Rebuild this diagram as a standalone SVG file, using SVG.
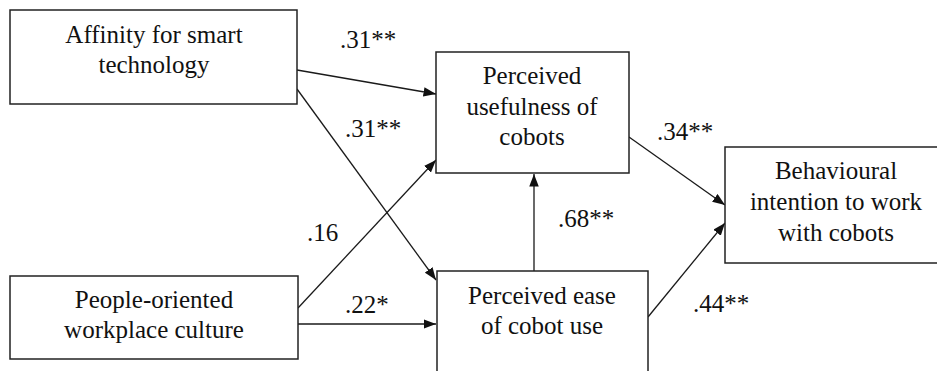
<svg xmlns="http://www.w3.org/2000/svg" width="937" height="371" viewBox="0 0 937 371">
  <style>
    .box { fill: #ffffff; stroke: #222222; stroke-width: 1.5; }
    .lbl { font-family: "Liberation Serif", "Times New Roman", Times, serif; font-size: 25px; fill: #111111; }
    .ctr { text-anchor: middle; }
    .edge { stroke: #1a1a1a; stroke-width: 1.3; fill: none; marker-end: url(#head); }
  </style>
  <defs>
    <marker id="head" markerUnits="userSpaceOnUse" markerWidth="13" markerHeight="10" refX="12.5" refY="4.75" orient="auto">
      <path d="M0,0 L12.5,4.75 L0,9.5 z" fill="#111111"/>
    </marker>
  </defs>
  <rect width="937" height="371" fill="#ffffff"/>

  <!-- path arrows with their coefficients -->
  <g id="connectors">
    <line class="edge" x1="297" y1="70" x2="436" y2="94"/>
    <line class="edge" x1="297" y1="89" x2="436" y2="280"/>
    <line class="edge" x1="298" y1="308" x2="436" y2="160"/>
    <line class="edge" x1="298" y1="324" x2="436" y2="324"/>
    <line class="edge" x1="534" y1="271" x2="534" y2="174"/>
    <line class="edge" x1="629" y1="137" x2="725" y2="205"/>
    <line class="edge" x1="648" y1="317" x2="725" y2="223"/>
    <text class="lbl" x="340" y="48">.31**</text>
    <text class="lbl" x="345" y="137">.31**</text>
    <text class="lbl" x="307" y="241">.16</text>
    <text class="lbl" x="345" y="313">.22*</text>
    <text class="lbl" x="558" y="227">.68**</text>
    <text class="lbl" x="657" y="140">.34**</text>
    <text class="lbl" x="693" y="312">.44**</text>
  </g>

  <g id="affinity">
    <rect class="box" x="10" y="10" width="287" height="94"/>
    <text class="lbl ctr" x="154" y="43">Affinity for smart</text>
    <text class="lbl ctr" x="154" y="73">technology</text>
  </g>

  <g id="usefulness">
    <rect class="box" x="436" y="52" width="193" height="121"/>
    <text class="lbl ctr" x="532" y="84">Perceived</text>
    <text class="lbl ctr" x="532" y="115">usefulness of</text>
    <text class="lbl ctr" x="532" y="145">cobots</text>
  </g>

  <g id="intention">
    <rect class="box" x="725" y="147" width="222" height="116"/>
    <text class="lbl ctr" x="836" y="179">Behavioural</text>
    <text class="lbl ctr" x="836" y="210">intention to work</text>
    <text class="lbl ctr" x="836" y="241">with cobots</text>
  </g>

  <g id="culture">
    <rect class="box" x="10" y="276" width="288" height="83"/>
    <text class="lbl ctr" x="154" y="308">People-oriented</text>
    <text class="lbl ctr" x="154" y="338">workplace culture</text>
  </g>

  <g id="ease">
    <rect class="box" x="437" y="271" width="211" height="110"/>
    <text class="lbl ctr" x="542" y="304">Perceived ease</text>
    <text class="lbl ctr" x="542" y="334">of cobot use</text>
  </g>
</svg>
